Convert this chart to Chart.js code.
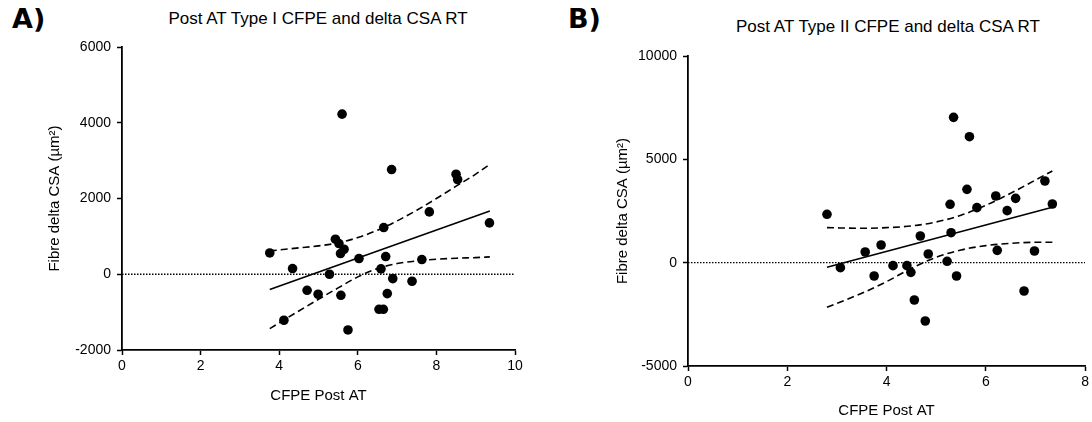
<!DOCTYPE html>
<html>
<head>
<meta charset="utf-8">
<script src="https://cdn.jsdelivr.net/npm/chart.js@4.4.1/dist/chart.umd.min.js"></script>
<style>
  body { margin: 0; background: #fff; width: 1092px; height: 422px; position: relative; overflow: hidden;
         font-family: "Liberation Sans", Arial, sans-serif; color: #000; }
  .panel { position: absolute; top: 0; width: 546px; height: 422px; }
  .tag { position: absolute; font: bold 27px "DejaVu Sans", sans-serif; }
  .ttl { position: absolute; font-size: 17px; transform: translate(-50%, -50%); white-space: nowrap; }
</style>
</head>
<body>
<div class="tag" style="left:12px; top:3px;">A)</div>
<div class="tag" style="left:568px; top:3px;">B)</div>
<div class="ttl" style="left:318px; top:19px;">Post AT Type I CFPE and delta CSA RT</div>
<div class="ttl" style="left:888px; top:27px;">Post AT Type II CFPE and delta CSA RT</div>
<div class="panel" style="left:0"><canvas id="chartA"></canvas></div>
<div class="panel" style="left:546px"><canvas id="chartB"></canvas></div>
<script>
// Type I fibres: CFPE post AT vs change in CSA
typeI_cfpe = [3.76, 4.34, 4.12, 4.71, 4.99, 5.28, 5.43, 5.52, 5.65, 5.56, 5.57, 5.60, 5.75, 6.03,
  6.59, 6.66, 6.71, 6.54, 6.65, 6.75, 6.89, 6.86, 7.38, 7.63, 7.82, 8.50, 8.54, 9.35];
typeI_dcsa = [563, 150, -1215, -423, -528, 0, 925, 810, 660, 546, -555, 4227, -1470, 414,
  141, 1233, 467, -925, -925, -511, -115, 2765, -185, 388, 1646, 2642, 2501, 1356];
typeI_fitX = [3.76, 9.36];
typeI_fitY = [-405, 1672];
typeI_bandX = [3.76, 4.5, 5.0, 5.5, 6.0, 6.5, 7.0, 7.5, 8.0, 8.5, 9.0, 9.36];
typeI_upper = [616, 696, 749, 828, 969, 1162, 1409, 1691, 1999, 2325, 2642, 2906];
typeI_lower = [-1435, -969, -661, -361, -70, 150, 282, 352, 396, 423, 440, 458];

// Type II fibres
typeII_cfpe = [2.80, 3.07, 3.57, 3.75, 3.89, 4.13, 4.41, 4.49, 4.56, 4.68, 4.78, 4.84, 5.22, 5.28,
  5.30, 5.35, 5.41, 5.62, 5.67, 5.82, 6.20, 6.23, 6.43, 6.60, 6.77, 6.98, 7.19, 7.34];
typeII_dcsa = [2341, -242, 517, -645, 855, -145, -145, -468, -1806, 1290, -2823, 419, 65, 2823,
  1451, 7031, -645, 3548, 6096, 2661, 3226, 597, 2516, 3112, -1371, 565, 3952, 2839];
typeII_fitX = [2.80, 7.34];
typeII_fitY = [-226, 2677];
typeII_bandX = [2.8, 3.5, 4.0, 4.5, 5.0, 5.5, 6.0, 6.5, 7.0, 7.34];
typeII_upper = [1695, 1663, 1695, 1776, 1969, 2292, 2775, 3356, 4001, 4436];
typeII_lower = [-2159, -1482, -918, -272, 260, 614, 824, 937, 985, 985];

function pts(xs, ys) {
  return xs.map((x, i) => ({ x: x, y: ys[i] }));
}

function make_chart(id, p) {
  const ctx = document.getElementById(id).getContext("2d");
  const curve = {
    type: "line", showLine: true, pointRadius: 0, borderColor: "black",
    borderWidth: 1.6, fill: false, cubicInterpolationMode: "monotone",
  };
  const tickFont = { size: 14, family: "Liberation Sans" };
  return new Chart(ctx, {
    type: "scatter",
    data: {
      datasets: [
        { data: pts(p.cfpe, p.dcsa), pointRadius: 4.8, backgroundColor: "black", borderWidth: 0 },
        { ...curve, data: pts(p.fitX, p.fitY) },
        { ...curve, data: pts(p.bandX, p.upper), borderDash: [7, 4] },
        { ...curve, data: pts(p.bandX, p.lower), borderDash: [7, 4] },
        // dotted zero reference line
        { ...curve, data: [{ x: 0, y: 0 }, { x: p.xmax, y: 0 }], borderWidth: 1.3, borderDash: [1.5, 1.5] },
      ],
    },
    options: {
      responsive: false,
      animation: false,
      layout: { padding: p.pad },
      plugins: { legend: { display: false }, tooltip: { enabled: false } },
      scales: {
        x: {
          type: "linear", min: 0, max: p.xmax,
          ticks: { stepSize: 2, color: "black", padding: 3, font: tickFont, callback: (v) => String(v) },
          grid: { drawOnChartArea: false, drawTicks: true, tickLength: 5, tickColor: "black", tickWidth: 1.5 },
          border: { color: "black", width: 1.8 },
          title: { display: true, text: "CFPE Post AT", color: "black",
                   font: { size: 15, family: "Liberation Sans" }, padding: { top: 0, bottom: p.xTitlePad } },
          afterFit: (s) => { s.height = p.xh; },
        },
        y: {
          min: p.ymin, max: p.ymax,
          ticks: { stepSize: p.ystep, color: "black", padding: 6, font: tickFont, callback: (v) => String(v) },
          grid: { drawOnChartArea: false, drawTicks: true, tickLength: 5, tickColor: "black", tickWidth: 1.5 },
          border: { color: "black", width: 1.8 },
          title: { display: true, text: "Fibre delta CSA (µm²)", color: "black",
                   font: { size: 15, family: "Liberation Sans" }, padding: { top: p.yTitlePad, bottom: 0 } },
          afterFit: (s) => { s.width = p.yw; },
        },
      },
    },
  });
}

document.getElementById("chartA").width = 546;
document.getElementById("chartA").height = 422;
document.getElementById("chartB").width = 546;
document.getElementById("chartB").height = 422;

make_chart("chartA", {
  cfpe: typeI_cfpe, dcsa: typeI_dcsa, fitX: typeI_fitX, fitY: typeI_fitY,
  bandX: typeI_bandX, upper: typeI_upper, lower: typeI_lower,
  xmax: 10, ymin: -2000, ymax: 6000, ystep: 2000,
  pad: { left: 0, right: 31, top: 47, bottom: 0 }, yw: 122, xh: 72, yTitlePad: 46, xTitlePad: 17,
});

make_chart("chartB", {
  cfpe: typeII_cfpe, dcsa: typeII_dcsa, fitX: typeII_fitX, fitY: typeII_fitY,
  bandX: typeII_bandX, upper: typeII_upper, lower: typeII_lower,
  xmax: 8, ymin: -5000, ymax: 10000, ystep: 5000,
  pad: { left: 0, right: 4, top: 56, bottom: 0 }, yw: 142, xh: 56, yTitlePad: 68, xTitlePad: 2,
});
</script>
</body>
</html>
